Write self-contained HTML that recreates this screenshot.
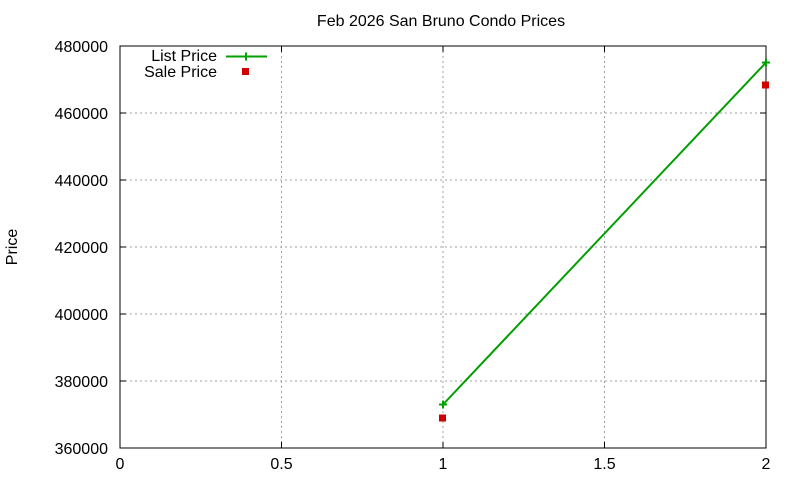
<!DOCTYPE html>
<html><head><meta charset="utf-8"><style>
html,body{margin:0;padding:0;background:#fff}
svg{display:block;font-family:"Liberation Sans",sans-serif}
</style></head><body>
<svg width="800" height="480" viewBox="0 0 800 480" xmlns="http://www.w3.org/2000/svg">
<rect width="800" height="480" fill="#fff"/>
<g stroke="#a0a0a0" stroke-width="1" stroke-dasharray="2,3">
<line x1="120" y1="381" x2="766" y2="381"/>
<line x1="120" y1="314" x2="766" y2="314"/>
<line x1="120" y1="247" x2="766" y2="247"/>
<line x1="120" y1="180" x2="766" y2="180"/>
<line x1="120" y1="113" x2="766" y2="113"/>
<line x1="281.5" y1="46" x2="281.5" y2="448"/>
<line x1="443" y1="46" x2="443" y2="448"/>
<line x1="604.5" y1="46" x2="604.5" y2="448"/>
</g>
<g stroke="#000" stroke-width="1">
<rect x="120" y="46" width="646" height="402" fill="none"/>
<path d="M120 448h6M120 381h6M120 314h6M120 247h6M120 180h6M120 113h6M120 46h6
M766 448h-6M766 381h-6M766 314h-6M766 247h-6M766 180h-6M766 113h-6M766 46h-6
M120 448v-6M281.5 448v-6M443 448v-6M604.5 448v-6M766 448v-6
M120 46v6M281.5 46v6M443 46v6M604.5 46v6M766 46v6"/>
</g>
<g font-size="16" fill="#000" text-anchor="end">
<text x="108" y="454">360000</text>
<text x="108" y="387">380000</text>
<text x="108" y="320">400000</text>
<text x="108" y="253">420000</text>
<text x="108" y="186">440000</text>
<text x="108" y="119">460000</text>
<text x="108" y="52">480000</text>
</g>
<g font-size="16" fill="#000" text-anchor="middle">
<text x="120" y="469">0</text>
<text x="281.5" y="469">0.5</text>
<text x="443" y="469">1</text>
<text x="604.5" y="469">1.5</text>
<text x="766" y="469">2</text>
<text x="441" y="26">Feb 2026 San Bruno Condo Prices</text>
<text transform="translate(17,247) rotate(-90)">Price</text>
</g>
<g font-size="16" fill="#000" text-anchor="end">
<text x="217" y="61">List Price</text>
<text x="217" y="77">Sale Price</text>
</g>
<g stroke="#00a000" stroke-width="2" fill="none">
<line x1="226" y1="56.5" x2="267" y2="56.5"/>
<path d="M242 56.5h8M246 52.5v8"/>
<line x1="443" y1="404.5" x2="766" y2="62.5"/>
<path d="M439 404.5h8M443 400.5v8M762 62.5h8M766 58.5v8"/>
</g>
<g fill="#d00000">
<rect x="242" y="68" width="7" height="7"/>
<rect x="439" y="414.5" width="7" height="7"/>
<rect x="762" y="81.5" width="7" height="7"/>
</g>
</svg>
</body></html>
